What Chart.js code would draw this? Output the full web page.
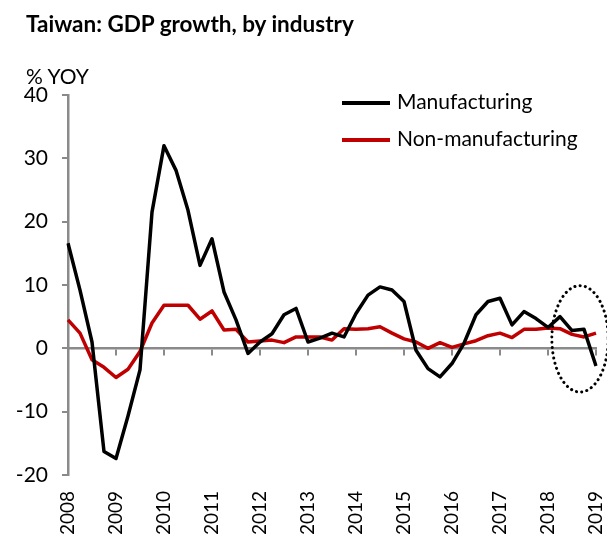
<!DOCTYPE html>
<html>
<head>
<meta charset="utf-8">
<script src="https://cdn.jsdelivr.net/npm/chart.js@4"></script>
<style>
  html, body { margin: 0; padding: 0; background: #fff; }
  #wrap { position: relative; width: 607px; height: 537px; font-family: Lato, "Open Sans", sans-serif; color: #000; }
  #chart { position: absolute; left: 0; top: 0; }
  .title { position: absolute; left: 26px; top: 11px; font-size: 22.5px; line-height: 26px; font-weight: bold; white-space: nowrap; }
  .unit { position: absolute; left: 26px; top: 63px; font-size: 21px; line-height: 26px; white-space: nowrap; }
  .legend { position: absolute; left: 342px; font-size: 21px; line-height: 26px; white-space: nowrap; }
  .legend span.sw { display: inline-block; width: 48px; height: 4px; vertical-align: middle; margin-right: 7px; position: relative; top: -1px; }
</style>
</head>
<body>
<div id="wrap">
  <canvas id="chart" width="607" height="537"></canvas>
  <div class="title">Taiwan: GDP growth, by industry</div>
  <div class="unit">% YOY</div>
  <div id="legend"></div>
</div>
<script>
(function () {
    // -------- Data (quarterly, 2008 Q1 - 2019 Q1) --------
    const years = ["2008", "2009", "2010", "2011", "2012", "2013", "2014", "2015", "2016", "2017", "2018", "2019"];
    const quarters = ["Q1", "Q2", "Q3", "Q4"];
    const labels = [];
    years.forEach(y => quarters.forEach(q => labels.push(y + " " + q)));
    labels.length = 45; // stops at 2019 Q1

    const manufacturing = [16.6, 9.2, 1.0, -16.3, -17.4, -10.7, -3.4, 21.5, 32.0, 28.1, 21.8, 13.1, 17.3, 8.9, 4.5,
        -0.8, 1.0, 2.3, 5.3, 6.3, 1.0, 1.6, 2.4, 1.8, 5.5, 8.4, 9.7, 9.2, 7.4, -0.3, -3.2, -4.5, -2.4, 0.8, 5.3,
        7.4, 7.9, 3.7, 5.8, 4.7, 3.3, 5.0, 2.8, 3.0, -2.8];
    const nonManufacturing = [4.5, 2.4, -1.8, -3.0, -4.6, -3.3, -0.5, 4.0, 6.8, 6.8, 6.8, 4.6, 5.9, 2.9, 3.0,
        1.0, 1.15, 1.3, 0.9, 1.8, 1.8, 1.8, 1.3, 3.1, 3.0, 3.1, 3.4, 2.4, 1.5, 1.0, 0.0, 0.9, 0.15, 0.7, 1.2,
        2.0, 2.4, 1.7, 3.0, 3.0, 3.2, 3.1, 2.2, 1.8, 2.4];
    const yTicks = [-20, -10, 0, 10, 20, 30, 40];

    // dotted ellipse round the latest quarters (centre in data units, radii in index / value units)
    const highlight = { x: 42.67, y: 1.5, rx: 2.35, ry: 8.4 };

    const AXIS_GREY = "#8a8a8a";
    const FONT = "Lato, 'Open Sans', sans-serif";

    const series = [
        { label: "Manufacturing", data: manufacturing, color: "#000000" },
        { label: "Non-manufacturing", data: nonManufacturing, color: "#c00000" }
    ];

    // -------- Plugins --------
    const ellipsePlugin = {
        id: "ellipse",
        afterDatasetsDraw(chart) {
            const { ctx, scales } = chart;
            const cx = scales.x.getPixelForValue(highlight.x);
            const cy = scales.y.getPixelForValue(highlight.y);
            const rx = Math.abs(scales.x.getPixelForValue(highlight.x + highlight.rx) - cx);
            const ry = Math.abs(scales.y.getPixelForValue(highlight.y + highlight.ry) - cy);
            ctx.save();
            ctx.beginPath();
            ctx.ellipse(cx, cy, rx, ry, 0, 0, Math.PI * 2);
            ctx.setLineDash([0.1, 5.2]);
            ctx.lineCap = "round";
            ctx.lineWidth = 3;
            ctx.strokeStyle = "#000";
            ctx.stroke();
            ctx.restore();
        }
    };

    // -------- Chart --------
    const canvas = document.getElementById("chart");
    new Chart(canvas, {
        type: "line",
        data: {
            labels: labels,
            datasets: series.map(s => ({
                label: s.label,
                data: s.data,
                borderColor: s.color,
                backgroundColor: s.color,
                borderWidth: 3.5,
                borderJoinStyle: "round",
                pointRadius: 0,
                tension: 0
            }))
        },
        options: {
            responsive: false,
            animation: false,
            layout: { padding: { top: 95, right: 11, left: 0, bottom: 0 } },
            plugins: { legend: { display: false }, tooltip: { enabled: false } },
            scales: {
                x: {
                    position: "bottom",
                    grid: { display: false },
                    border: { display: false },
                    ticks: {
                        autoSkip: false,
                        minRotation: 90,
                        maxRotation: 90,
                        padding: 8,
                        color: "#000",
                        font: { family: FONT, size: 19 },
                        callback: (v, i) => (i % 4 === 0 ? years[i / 4] : "")
                    },
                    afterFit: s => { s.height = 62; s.paddingLeft = 0; s.paddingRight = 0; }
                },
                x2: {
                    type: "category",
                    position: { y: 0 },
                    grid: {
                        drawOnChartArea: false,
                        tickLength: 6,
                        lineWidth: 2,
                        color: c => (c.index % 4 === 0 ? AXIS_GREY : "rgba(0,0,0,0)")
                    },
                    border: { display: true, color: AXIS_GREY, width: 2.5 },
                    ticks: { display: false }
                },
                y: {
                    min: -20,
                    max: 40,
                    afterBuildTicks: s => { s.ticks = yTicks.map(v => ({ value: v })); },
                    grid: { drawOnChartArea: false, tickLength: 6, lineWidth: 2, color: AXIS_GREY },
                    border: { display: true, color: AXIS_GREY, width: 2.5 },
                    ticks: { color: "#000", padding: 14, font: { family: FONT, size: 21 } },
                    afterFit: s => { s.width = 68; }
                }
            }
        },
        plugins: [ellipsePlugin]
    });

    // -------- Legend (HTML) --------
    const legend = document.getElementById("legend");
    const legendTops = [88, 125];
    series.forEach((s, i) => {
        const row = document.createElement("div");
        row.className = "legend";
        row.style.top = legendTops[i] + "px";
        row.innerHTML = '<span class="sw" style="background:' + s.color + '"></span>' + s.label;
        legend.appendChild(row);
    });
})();
</script>
</body>
</html>
